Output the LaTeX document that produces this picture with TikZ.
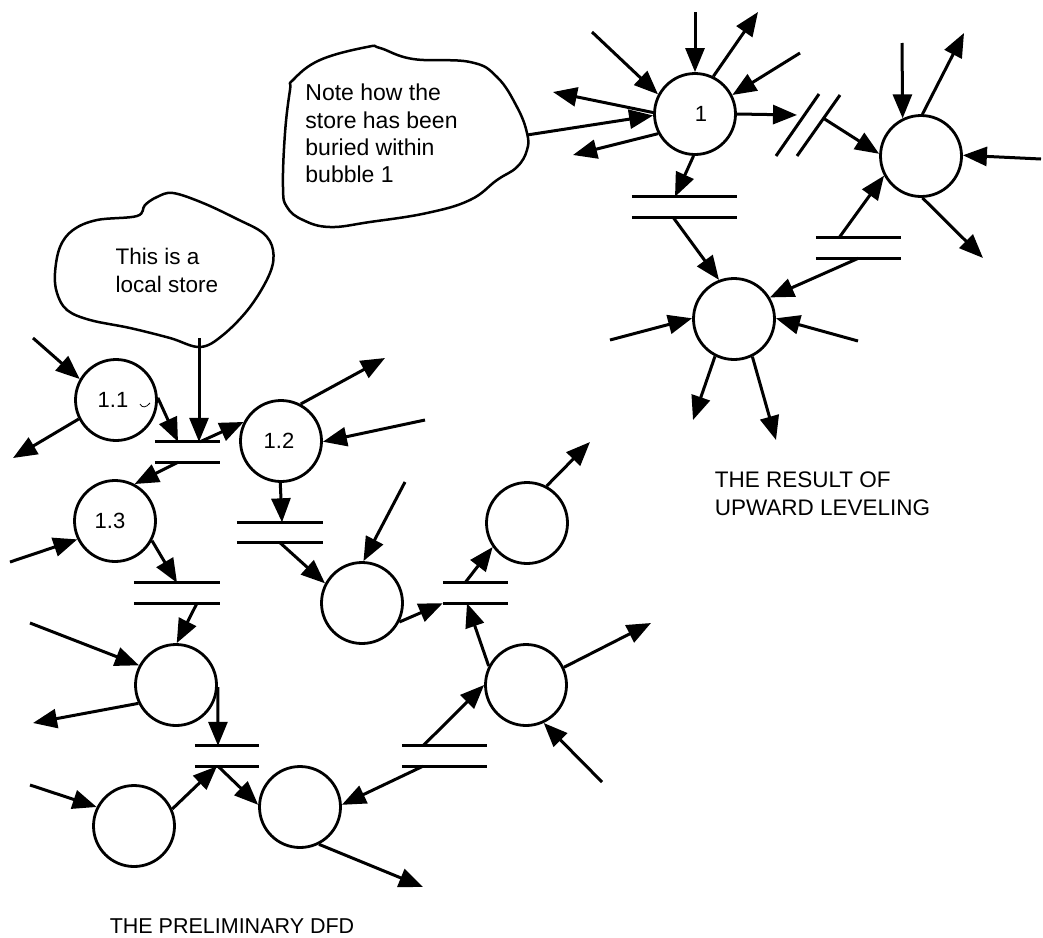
\documentclass[tikz,border=0pt]{standalone}
\usepackage{fontspec}
\setmainfont{Liberation Sans}
\usetikzlibrary{arrows.meta}
\begin{document}
\begin{tikzpicture}[x=1pt,y=-1pt,
  bubble/.style={circle,draw,line width=2.8pt,minimum size=81pt,inner sep=0pt,font=\fontsize{22}{26}\selectfont},
  storebox/.style={rectangle,draw=none,inner sep=0pt,minimum height=20pt},
  storeline/.style={line width=3pt},
  flow/.style={line width=3pt,-{Triangle[length=24pt,width=19pt]}},
  cloudline/.style={line width=2.5pt},
  notetext/.style={align=left,inner sep=0pt,font=\fontsize{23}{27.3}\selectfont},
  localtext/.style={align=left,inner sep=0pt,font=\fontsize{22.5}{28}\selectfont},
  captiontext/.style={align=left,inner sep=0pt,font=\fontsize{22.5}{28}\selectfont}]
\useasboundingbox (0,0) rectangle (1043,937);

% ---------- bubbles ----------
\node[bubble] (b1) at (695,114) {\hspace*{12pt}1};
\node[bubble] (br) at (921,156) {};
\node[bubble] (bb) at (734,319) {};
\node[bubble] (b11) at (116,400) {1.1\hspace*{6pt}};
\node[bubble] (b12) at (281,441) {1.2\hspace*{4pt}};
\node[bubble] (b13) at (115,521) {1.3\hspace*{10pt}};
\node[bubble] (bx) at (362,603) {};
\node[bubble] (by) at (527,523) {};
\node[bubble] (bz) at (526,685) {};
\node[bubble] (bp) at (176,685) {};
\node[bubble] (bq) at (134,826) {};
\node[bubble] (bR) at (300,807) {};

% ---------- stores ----------
\node[storebox,minimum width=105pt] (sA) at (684.5,207) {};
\node[storebox,minimum width=85pt] (sB) at (858.5,248) {};
\node[storebox,minimum width=65pt] (s1) at (187.5,452) {};
\node[storebox,minimum width=86pt] (s2) at (280,532.5) {};
\node[storebox,minimum width=86pt] (s3) at (177,593) {};
\node[storebox,minimum width=65pt] (s4) at (475.5,593) {};
\node[storebox,minimum width=85pt] (s5) at (444.5,756) {};
\node[storebox,minimum width=64pt] (s6) at (227,756) {};
\foreach \s in {sA,sB,s1,s2,s3,s4,s5,s6}
  \draw[storeline] (\s.north west) -- (\s.north east) (\s.south west) -- (\s.south east);

% broken store
\coordinate (bs1a) at (776,156); \coordinate (bs1b) at (819,94);
\coordinate (bs2a) at (797,156); \coordinate (bs2b) at (840,95);
\draw[storeline] (bs1a) -- (bs1b) (bs2a) -- (bs2b);
\coordinate (bsIn) at (797,115);
\coordinate (bsOut) at (823,118);

% ---------- clouds ----------
\draw[cloudline] plot[smooth cycle, tension=0.7] coordinates {
 (293,80) (320,60) (367,47) (380,48) (413,59) (470,62) (497,77) (517,107)
 (527,133) (527,150) (517,167) (497,180) (470,200) (427,213) (370,222)
 (330,227) (303,220) (287,207) (283,187) (285,133) (290,90)};
\coordinate (noteR) at (527,135);
\node[notetext] (noteText) at (381.5,133.5) {Note how the\\store has been\\buried within\\bubble 1};

\draw[cloudline] plot[smooth cycle, tension=0.6] coordinates {
 (60,247) (73,230) (97,220) (137,216) (145,205) (157,197) (173,193)
 (203,203) (237,219) (263,233) (273,250) (270,273) (250,307) (223,335)
 (200,347) (170,338) (130,328) (90,320) (67,310) (57,293) (55,273)};
\coordinate (lsB) at (199,338);
\node[localtext] (lsText) at (167,270) {This is a\\local store};

% small stray mark beside 1.1
\draw[line width=0.8pt] (140,404) .. controls (142,408) and (146,408) .. (150,403);

% ---------- flows: upper right ----------
\coordinate (t1) at (592,32);   \draw[flow] (t1) -- (b1.152);
\coordinate (t2) at (695,12);   \draw[flow] (t2) -- (b1.90);
\coordinate (t3) at (758,12);   \draw[flow] (b1.64) -- (t3);
\coordinate (t4) at (800,53);   \draw[flow] (t4) -- (b1.27);
\coordinate (t5) at (553,92);   \draw[flow] (b1.178) -- (t5);
\draw[flow] (noteR) -- (b1.182);
\coordinate (t6) at (573,155);  \draw[flow] (b1.208) -- (t6);
\draw[flow] (b1.0) -- (bsIn);
\draw[flow] (bsOut) -- (br.177);
\draw[flow] (b1.268) -- ([xshift=-9.5pt]sA.north);
\draw[flow] ([xshift=-11.5pt]sA.south) -- (bb.111);
\draw[flow] ([xshift=-19.5pt]sB.north) -- (br.208);
\draw[flow] (sB.south) -- (bb.31);

\coordinate (r1) at (902,43);   \draw[flow] (r1) -- (br.116);
\coordinate (r2) at (964,33);   \draw[flow] (br.88) -- (r2);
\coordinate (r3) at (1041,159); \draw[flow] (r3) -- (br.1);
\coordinate (r4) at (983,258);  \draw[flow] (br.272) -- (r4);

\coordinate (m1) at (610,340);  \draw[flow] (m1) -- (bb.179);
\coordinate (m2) at (858,341);  \draw[flow] (m2) -- (bb.1);
\coordinate (m3) at (693,420);  \draw[flow] (bb.243) -- (m3);
\coordinate (m4) at (776,440);  \draw[flow] (bb.296) -- (m4);

% ---------- flows: lower left ----------
\coordinate (l1) at (33,338);   \draw[flow] (l1) -- (b11.150);
\coordinate (l2) at (13,458);   \draw[flow] (b11.207) -- (l2);
\draw[flow] (b11.3) -- ([xshift=-9.5pt]s1.north);
\draw[flow] (lsB) -- ([xshift=11.5pt]s1.north);
\draw[flow] ([xshift=12.5pt]s1.north) -- (b12.153);
\draw[flow] ([xshift=-9.5pt]s1.south) -- (b13.62);
\coordinate (l3) at (385,358);  \draw[flow] (b12.62) -- (l3);
\coordinate (l4) at (425,420);  \draw[flow] (l4) -- (b12.359);
\draw[flow] (b12.269) -- ([xshift=2pt]s2.north);
\draw[flow] (s2.south) -- (bx.152);
\coordinate (l5) at (405,482);  \draw[flow] (l5) -- (bx.88);
\draw[flow] (bx.333) -- (s4.south west);
\coordinate (l6) at (10,562);   \draw[flow] (l6) -- (b13.206);
\draw[flow] (b13.332) -- (s3.north);
\draw[flow] ([xshift=20pt]s3.south) -- (bp.89);
\coordinate (l7) at (30,623);   \draw[flow] (l7) -- (bp.152);
\coordinate (l8) at (33,723);   \draw[flow] (bp.206) -- (l8);
\draw[flow] (bp.357) -- ([xshift=-9pt]s6.north);
\coordinate (l9) at (30,785);   \draw[flow] (l9) -- (bq.153);
\draw[flow] (bq.24) -- ([xshift=-10pt]s6.south);
\draw[flow] ([xshift=-9pt]s6.south) -- (bR.177);
\coordinate (l10) at (423,887); \draw[flow] (bR.297) -- (l10);
\draw[flow] ([xshift=-21.5pt]s5.south) -- (bR.3);
\draw[flow] ([xshift=-21.5pt]s5.north) -- (bz.180);
\coordinate (l11) at (651,623); \draw[flow] (bz.25) -- (l11);
\coordinate (l12) at (602,782); \draw[flow] (l12) -- (bz.295);
\draw[flow] (bz.153) -- ([xshift=-8.5pt]s4.south);
\draw[flow] ([xshift=-10.5pt]s4.north) -- (by.215);
\coordinate (l13) at (590,442); \draw[flow] (by.62) -- (l13);

% ---------- captions ----------
\node[captiontext] (cap1) at (822.5,493.5) {THE RESULT OF\\UPWARD LEVELING};
\node[captiontext,font=\fontsize{21.5}{26}\selectfont] (cap2) at (232,926.5) {THE PRELIMINARY DFD};
\end{tikzpicture}
\end{document}
